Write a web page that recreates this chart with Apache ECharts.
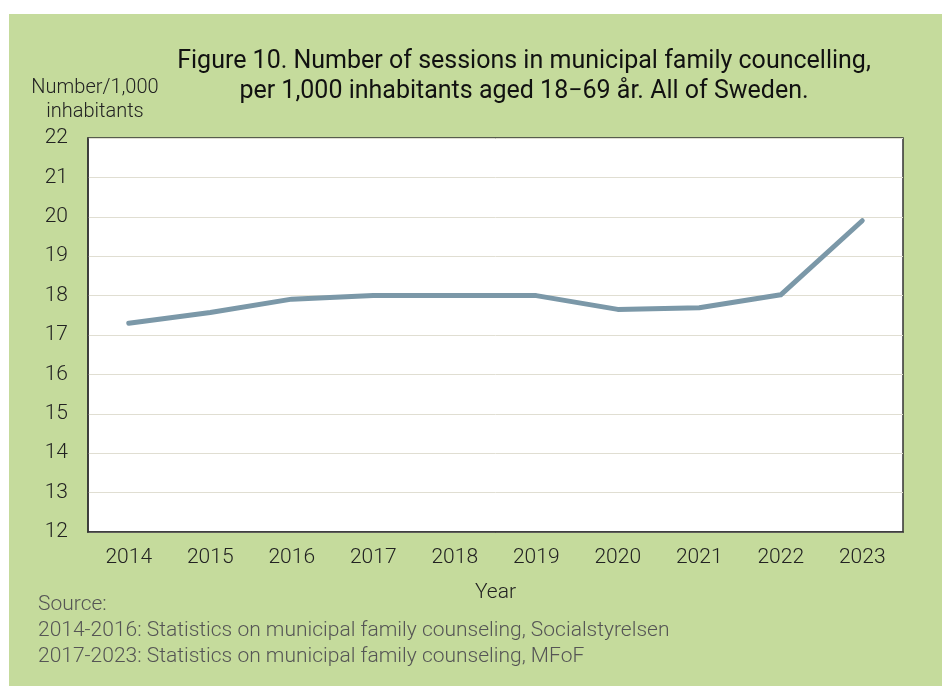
<!DOCTYPE html>
<html>
<head>
<meta charset="utf-8">
<script src="https://cdn.jsdelivr.net/npm/echarts@6/dist/echarts.min.js"></script>
<style>
  html, body { margin: 0; padding: 0; background: #fff; }
  #frame { position: absolute; left: 9px; top: 14px; width: 933px; height: 672px; background: #c5db9c; }
  #chart { width: 942px; height: 686px; position: absolute; left: 0; top: 0; }
</style>
</head>
<body>
<div id="frame"></div>
<div id="chart"></div>
<script>
// data
var years = ['2014', '2015', '2016', '2017', '2018', '2019', '2020', '2021', '2022', '2023'];
var sessions = [17.30, 17.57, 17.91, 18.0, 18.0, 18.0, 17.65, 17.69, 18.02, 19.90];
var titleLines = ['Figure 10. Number of sessions in municipal family councelling,', 'per 1,000 inhabitants aged 18\u221269 \u00e5r. All of Sweden.'];
var sourceLines = ['Source:', '2014-2016: Statistics on municipal family counseling, Socialstyrelsen', '2017-2023: Statistics on municipal family counseling, MFoF'];

var font = 'Roboto, "Noto Sans", sans-serif';
var chart = echarts.init(document.getElementById('chart'));

var option = {
  backgroundColor: 'transparent',
  animation: false,
  title: {
    text: titleLines.join('\n'),
    left: 519,
    top: 42,
    textAlign: 'center',
    textStyle: { fontFamily: font, fontSize: 25, fontWeight: 'normal', color: '#111', lineHeight: 30 }
  },
  grid: {
    left: 88, right: 39, top: 138, bottom: 154,
    show: true, backgroundColor: '#fff', borderColor: '#333', borderWidth: 1.5
  },
  xAxis: {
    type: 'category',
    data: years,
    boundaryGap: true,
    axisLine: { lineStyle: { color: '#333', width: 1.5 } },
    axisTick: { inside: true, length: 6, lineStyle: { color: '#444' } },
    axisLabel: { fontFamily: font, fontSize: 21, fontWeight: 300, color: '#222', margin: 15 },
    name: 'Year',
    nameLocation: 'middle',
    nameGap: 50,
    nameTextStyle: { fontFamily: font, fontSize: 21, fontWeight: 300, color: '#222' }
  },
  yAxis: {
    type: 'value',
    min: 12, max: 22, interval: 1,
    axisLine: { show: true, lineStyle: { color: '#333', width: 1.5 } },
    axisTick: { show: false },
    axisLabel: { fontFamily: font, fontSize: 21, fontWeight: 300, color: '#222', margin: 20 },
    splitLine: { lineStyle: { color: '#e0ded2', width: 1 } }
  },
  graphic: [
    {
      type: 'text', x: 95, y: 76,
      style: {
        text: 'Number/1,000\ninhabitants', fill: '#222', fontFamily: font, fontSize: 20, fontWeight: 300,
        lineHeight: 24, align: 'center'
      }
    },
    {
      type: 'text', left: 38, top: 592,
      style: { text: sourceLines.join('\n'), fill: '#555', fontFamily: font, fontSize: 21, fontWeight: 300, lineHeight: 26 }
    }
  ],
  series: [{
    type: 'line',
    data: sessions,
    showSymbol: false,
    lineStyle: { color: '#7b98a8', width: 5, cap: 'round', join: 'round' }
  }]
};
chart.setOption(option);
</script>
</body>
</html>
